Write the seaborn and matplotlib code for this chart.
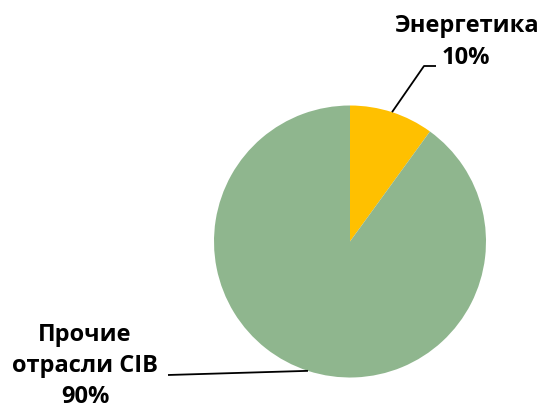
import numpy as np
import matplotlib
matplotlib.use("Agg")
import matplotlib.pyplot as plt
import seaborn as sns

categories = ["Энергетика", "Прочие\nотрасли CIB"]
values = [10, 90]
colors = ["#FFC000", "#8FB68E"]

sns.set_theme(style="white")
plt.rcParams['font.family'] = ['Open Sans', 'DejaVu Sans']

W, H = 542, 411
fig = plt.figure(figsize=(W / 100, H / 100), dpi=100)
ax = fig.add_axes([0, 0, 1, 1])

cx, cy, r = 350, H - 241.5, 136
wedges, _ = ax.pie(values, colors=colors, startangle=90, counterclock=False,
                   center=(cx, cy), radius=r, frame=True,
                   wedgeprops=dict(linewidth=0))
ax.set_xlim(0, W)
ax.set_ylim(0, H)
ax.set_aspect('equal')
ax.axis('off')

total = sum(values)
labels = [f"{c}\n{round(v / total * 100)}%" for c, v in zip(categories, values)]

# label layout (pixel coordinates, y from top)
elbows = [(424, 66), (168, 375)]
ends = [(436, 66), (168, 375)]
text_pos = [(466, 42), (85, 366)]

for w, lab, el, en, tp in zip(wedges, labels, elbows, ends, text_pos):
    ang = np.deg2rad((w.theta1 + w.theta2) / 2)
    ax_, ay_ = cx + r * np.cos(ang), cy + r * np.sin(ang)
    xs = [ax_, el[0], en[0]]
    ys = [ay_, H - el[1], H - en[1]]
    ax.plot(xs, ys, color="black", lw=1.3, solid_capstyle='butt')
    ax.text(tp[0], H - tp[1], lab, ha='center', va='center',
            fontsize=17, fontweight='bold', color='black', linespacing=1.4)

fig.savefig("out.png", dpi=100)
